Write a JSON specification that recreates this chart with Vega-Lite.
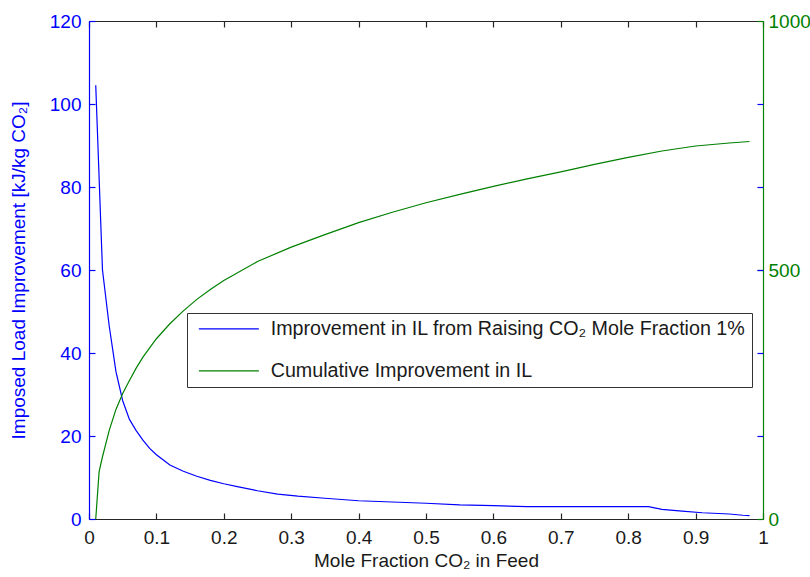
{
  "$schema": "https://vega.github.io/schema/vega-lite/v6.json",
  "width": 674,
  "height": 498,
  "autosize": {"type": "none"},
  "padding": {"left": 89, "top": 21, "right": 47, "bottom": 58},
  "background": "white",
  "config": {
    "font": "Liberation Sans",
    "view": {"stroke": null},
    "axis": {
      "grid": false,
      "labelFont": "Liberation Sans",
      "labelFontSize": 19,
      "titleFont": "Liberation Sans",
      "titleFontSize": 19,
      "titleFontWeight": "normal",
      "labelFlush": false,
      "labelOverlap": false,
      "tickSize": -6,
      "tickWidth": 1.2,
      "domainWidth": 1.2
    }
  },
  "data": {
    "values": [
      {"x": 0.01, "y": 104.5, "s": "A"},
      {"x": 0.02, "y": 60, "s": "A"},
      {"x": 0.03, "y": 46.5, "s": "A"},
      {"x": 0.04, "y": 35.5, "s": "A"},
      {"x": 0.05, "y": 28.5, "s": "A"},
      {"x": 0.06, "y": 24, "s": "A"},
      {"x": 0.07, "y": 21.3, "s": "A"},
      {"x": 0.08, "y": 19, "s": "A"},
      {"x": 0.09, "y": 17, "s": "A"},
      {"x": 0.10, "y": 15.5, "s": "A"},
      {"x": 0.12, "y": 13, "s": "A"},
      {"x": 0.14, "y": 11.5, "s": "A"},
      {"x": 0.16, "y": 10.3, "s": "A"},
      {"x": 0.18, "y": 9.3, "s": "A"},
      {"x": 0.20, "y": 8.5, "s": "A"},
      {"x": 0.22, "y": 7.8, "s": "A"},
      {"x": 0.25, "y": 6.8, "s": "A"},
      {"x": 0.28, "y": 6.0, "s": "A"},
      {"x": 0.31, "y": 5.5, "s": "A"},
      {"x": 0.35, "y": 5.0, "s": "A"},
      {"x": 0.40, "y": 4.4, "s": "A"},
      {"x": 0.45, "y": 4.1, "s": "A"},
      {"x": 0.50, "y": 3.8, "s": "A"},
      {"x": 0.55, "y": 3.4, "s": "A"},
      {"x": 0.60, "y": 3.2, "s": "A"},
      {"x": 0.65, "y": 3.0, "s": "A"},
      {"x": 0.70, "y": 3.0, "s": "A"},
      {"x": 0.75, "y": 3.0, "s": "A"},
      {"x": 0.80, "y": 3.0, "s": "A"},
      {"x": 0.83, "y": 3.0, "s": "A"},
      {"x": 0.85, "y": 2.3, "s": "A"},
      {"x": 0.88, "y": 1.9, "s": "A"},
      {"x": 0.91, "y": 1.5, "s": "A"},
      {"x": 0.95, "y": 1.2, "s": "A"},
      {"x": 0.97, "y": 0.9, "s": "A"},
      {"x": 0.98, "y": 0.8, "s": "A"},
      {"x": 0.01, "y": 0, "s": "B"},
      {"x": 0.015, "y": 95, "s": "B"},
      {"x": 0.02, "y": 125, "s": "B"},
      {"x": 0.03, "y": 178, "s": "B"},
      {"x": 0.04, "y": 220, "s": "B"},
      {"x": 0.05, "y": 252, "s": "B"},
      {"x": 0.06, "y": 278, "s": "B"},
      {"x": 0.07, "y": 303, "s": "B"},
      {"x": 0.08, "y": 325, "s": "B"},
      {"x": 0.10, "y": 362, "s": "B"},
      {"x": 0.12, "y": 392, "s": "B"},
      {"x": 0.14, "y": 418, "s": "B"},
      {"x": 0.16, "y": 441, "s": "B"},
      {"x": 0.18, "y": 461, "s": "B"},
      {"x": 0.20, "y": 479, "s": "B"},
      {"x": 0.25, "y": 517, "s": "B"},
      {"x": 0.30, "y": 546, "s": "B"},
      {"x": 0.35, "y": 571, "s": "B"},
      {"x": 0.40, "y": 595, "s": "B"},
      {"x": 0.45, "y": 616, "s": "B"},
      {"x": 0.50, "y": 635, "s": "B"},
      {"x": 0.55, "y": 652, "s": "B"},
      {"x": 0.60, "y": 668, "s": "B"},
      {"x": 0.65, "y": 683, "s": "B"},
      {"x": 0.70, "y": 697, "s": "B"},
      {"x": 0.75, "y": 712, "s": "B"},
      {"x": 0.80, "y": 726, "s": "B"},
      {"x": 0.85, "y": 739, "s": "B"},
      {"x": 0.90, "y": 749, "s": "B"},
      {"x": 0.95, "y": 755, "s": "B"},
      {"x": 0.98, "y": 758, "s": "B"}
    ]
  },
  "layer": [
    {
      "transform": [{"filter": "datum.s == 'A'"}],
      "mark": {"type": "line", "strokeWidth": 1.2, "clip": true},
      "encoding": {
        "x": {
          "field": "x", "type": "quantitative",
          "scale": {"domain": [0, 1], "nice": false},
          "title": "Mole Fraction CO₂ in Feed",
          "axis": {
            "orient": "bottom",
            "values": [0, 0.1, 0.2, 0.3, 0.4, 0.5, 0.6, 0.7, 0.8, 0.9, 1],
            "format": "~g",
            "labelPadding": 15,
            "titlePadding": 4,
            "labelColor": "#1a1a1a",
            "titleColor": "#1a1a1a",
            "tickColor": "#262626",
            "domainColor": "#262626"
          }
        },
        "y": {
          "field": "y", "type": "quantitative",
          "scale": {"domain": [0, 120], "nice": false},
          "title": "Imposed Load Improvement [kJ/kg CO₂]",
          "axis": {
            "orient": "left",
            "values": [0, 20, 40, 60, 80, 100, 120],
            "labelPadding": 14,
            "titlePadding": 21,
            "labelColor": "#0000ff",
            "titleColor": "#0000ff",
            "tickColor": "#0000ff",
            "domainColor": "#0000ff"
          }
        },
        "color": {
          "field": "s", "type": "nominal",
          "scale": {"domain": ["A", "B"], "range": ["#0000ff", "#008000"]},
          "legend": {
            "orient": "none",
            "legendX": 98,
            "legendY": 292,
            "title": null,
            "symbolType": "M-0.5,0L7,0",
            "symbolSize": 256,
            "symbolStrokeWidth": 1.2,
            "labelFont": "Liberation Sans",
            "labelFontSize": 19.7,
            "labelColor": "#1a1a1a",
            "labelOffset": 58,
            "labelLimit": 600,
            "rowPadding": 21,
            "padding": 6,
            "strokeColor": "#333333",
            "fillColor": "white",
            "labelExpr": "datum.value == 'A' ? 'Improvement in IL from Raising CO₂ Mole Fraction 1%' : 'Cumulative Improvement in IL'"
          }
        }
      }
    },
    {
      "transform": [{"filter": "datum.s == 'B'"}],
      "mark": {"type": "line", "strokeWidth": 1.2, "clip": true},
      "encoding": {
        "x": {"field": "x", "type": "quantitative", "axis": null},
        "y": {
          "field": "y", "type": "quantitative",
          "scale": {"domain": [0, 1000], "nice": false},
          "title": null,
          "axis": {
            "orient": "right",
            "values": [0, 500, 1000],
            "format": "d",
            "labelPadding": 11,
            "labelColor": "#008000",
            "tickColor": "#008000",
            "domainColor": "#008000"
          }
        },
        "color": {"field": "s", "type": "nominal"}
      }
    },
    {
      "transform": [{"filter": "datum.s == 'A'"}],
      "mark": {"type": "point", "opacity": 0},
      "encoding": {
        "x": {
          "field": "x", "type": "quantitative",
          "title": null,
          "axis": {
            "orient": "top",
            "values": [0, 0.1, 0.2, 0.3, 0.4, 0.5, 0.6, 0.7, 0.8, 0.9, 1],
            "labels": false,
            "tickColor": "#262626",
            "domainColor": "#262626"
          }
        },
        "y": {
          "field": "y", "type": "quantitative",
          "scale": {"domain": [0, 120], "nice": false},
          "title": null,
          "axis": {
            "orient": "right",
            "values": [20, 40, 60, 80, 100],
            "labels": false,
            "domain": false,
            "tickColor": "#0000ff"
          }
        }
      }
    }
  ],
  "resolve": {"scale": {"y": "independent"}, "axis": {"x": "independent"}}
}
